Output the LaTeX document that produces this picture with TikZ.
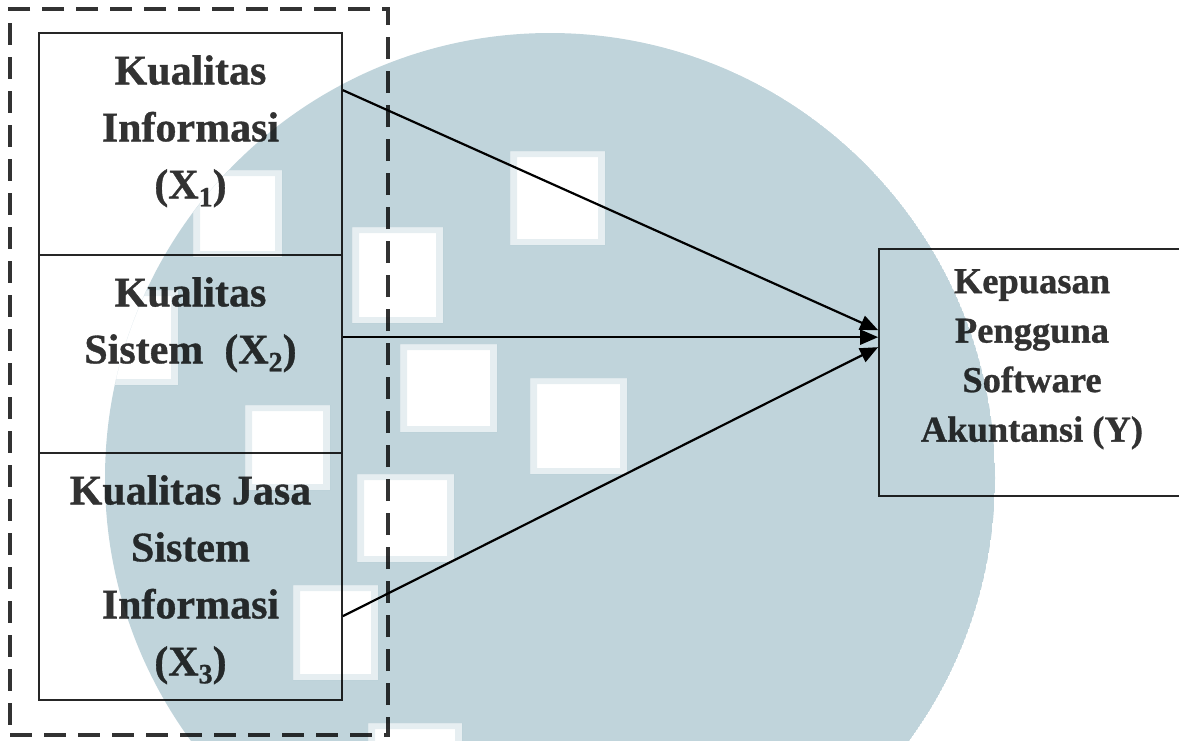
\documentclass[tikz,border=0pt]{standalone}
\usepackage{fontspec}
\setmainfont{Liberation Serif}[FakeBold=0.8]
\usetikzlibrary{arrows.meta,calc}
\definecolor{wm}{RGB}{192,212,219}
\definecolor{ink}{RGB}{50,50,50}
\definecolor{dashink}{RGB}{50,50,50}
% lowered, smaller digit used for the variable indices
\newcommand\idx[1]{\raisebox{-8pt}{\fontsize{28}{28}\selectfont #1}}
\begin{document}
\begin{tikzpicture}[x=1pt,y=-1pt,
  groupbox/.style={draw=dashink, line width=3.2pt, dash pattern=on 22pt off 12pt,
    minimum width=378pt, minimum height=726pt, inner sep=0pt},
  varbox/.style={draw=black!85, line width=1.7pt, minimum width=303pt, inner sep=0pt},
  outbox/.style={draw=black!85, line width=1.7pt, minimum width=306pt, minimum height=247pt, inner sep=0pt},
  varlbl/.style={font=\bfseries\fontsize{42}{57}\selectfont, align=center, text=ink,
    anchor=north, inner sep=0pt},
  outlbl/.style={font=\bfseries\fontsize{36.5}{49.5}\selectfont, align=center, text=ink,
    anchor=north, inner sep=0pt},
  link/.style={draw=black, line width=2.2pt, -{Triangle[length=18pt,width=15pt]}}
]
\useasboundingbox (0,0) rectangle (1179,740);
\clip (0,0) rectangle (1179,740);

% independent variables inside the dashed group
\node[groupbox] (grp) at (199,372) {};
\node[varbox, minimum height=222pt] (x1) at (190.5,144) {};
\node[varbox, minimum height=198pt] (x2) at (190.5,354) {};
\node[varbox, minimum height=247pt] (x3) at (190.5,576.5) {};

\node[varlbl] (t1) at (190.5,55) {Kualitas\\Informasi\\(X\idx{1})};
\node[varlbl] (t2) at (190.5,277) {Kualitas\\Sistem\hspace{0.5em}(X\idx{2})};
\node[varlbl] (t3) at (190.5,475) {Kualitas Jasa\\Sistem\\Informasi\\(X\idx{3})};

% dependent variable
\node[outbox] (y) at (1032,372.5) {};
\node[outlbl] (ty) at (1032,269) {Kepuasan\\Pengguna\\Software\\Akuntansi (Y)};

% connectors
\coordinate (s1) at ($(x1.north east)+(0,58)$);
\coordinate (s2) at ($(x2.north east)+(0,83)$);
\coordinate (s3) at ($(x3.north east)+(0,164)$);
\coordinate (e1) at ($(y.north west)+(0,82)$);
\coordinate (e2) at ($(y.north west)+(0,89)$);
\coordinate (e3) at ($(y.north west)+(0,99)$);
\draw[link] (s1) -- (e1);
\draw[link] (s2) -- (e2);
\draw[link] (s3) -- (e3);

% faint round emblem behind the diagram
\def\holes{510/151/605/245, 352/227/443/323, 400/344/497/432, 530/378/627/474,
  357/474/454/562, 293/585/378/680, 368/723/462/760, 245/405/330/490,
  193/170/282/257, 90/290/178/385}
\begin{scope}[blend mode=multiply]
  \begin{scope}
    \clip (550,478) circle (445pt);
    \fill[wm, even odd rule] (550,478) circle (445pt)
      foreach \a/\b/\c/\d in \holes { (\a,\b) rectangle (\c,\d) };
    % soft rim round each opening
    \foreach \a/\b/\c/\d in \holes {
      \fill[wm!40, even odd rule] (\a,\b) rectangle (\c,\d)
        (\a+7,\b+6) rectangle (\c-7,\d-6);
    }
  \end{scope}
\end{scope}
\end{tikzpicture}
\end{document}
